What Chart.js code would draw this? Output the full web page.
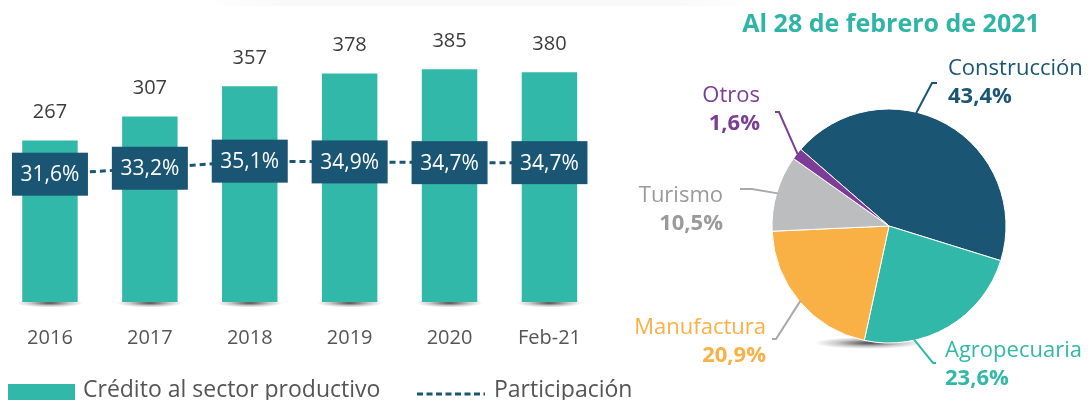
<!DOCTYPE html>
<html>
<head>
<meta charset="utf-8">
<script src="https://cdn.jsdelivr.net/npm/chart.js@4.4.1/dist/chart.umd.min.js"></script>
<style>
  body { margin: 0; background: #fff; width: 1091px; height: 400px; overflow: hidden; position: relative; font-family: 'Open Sans', sans-serif; }
  #band { position: absolute; left: 200px; top: 0; width: 560px; height: 6px; background: linear-gradient(to right, rgba(0,0,0,0), rgba(0,0,0,0.025) 15%, rgba(0,0,0,0.025) 85%, rgba(0,0,0,0)); }
  #barWrap { position: absolute; left: 0; top: 0; width: 605px; height: 385px; }
  #pieWrap { position: absolute; left: 620px; top: 0; width: 471px; height: 400px; }
  .lg-text { position: absolute; top: 377px; font-size: 23px; line-height: 23px; color: #555; white-space: nowrap; }
  .lg-box { position: absolute; left: 8px; top: 384px; width: 67px; height: 20px; background: #32b8a9; }
  .lg-dash { position: absolute; left: 417px; top: 392px; }
</style>
</head>
<body>
<div id="band"></div>
<div id="barWrap"><canvas id="barChart"></canvas></div>
<div id="pieWrap"><canvas id="pieChart"></canvas></div>

<div class="lg-box"></div>
<div class="lg-text" style="left:83px">Crédito al sector productivo</div>
<svg class="lg-dash" width="68" height="4"><line x1="0" y1="2" x2="68" y2="2" stroke="#1a5573" stroke-width="3" stroke-dasharray="6,3.5"/></svg>
<div class="lg-text" style="left:494px">Participación</div>

<script>
// datos
const years = ['2016', '2017', '2018', '2019', '2020', 'Feb-21'];
const credito = [267, 307, 357, 378, 385, 380];
const participacion = [31.6, 33.2, 35.1, 34.9, 34.7, 34.7];

const sectores = ['Construcción', 'Agropecuaria', 'Manufactura', 'Turismo', 'Otros'];
const sectorShare = [43.4, 23.6, 20.9, 10.5, 1.6];

const FONT = "'Open Sans', sans-serif";
const TEAL = '#32b8a9';
const NAVY = '#1a5573';

function fmt(v) {
    return v.toFixed(1).replace('.', ',') + '%';
}

// sombras y etiquetas de las barras
const barDecor = {
    id: 'barDecor',
    beforeDatasetsDraw(chart) {
        const ctx = chart.ctx;
        const meta = chart.getDatasetMeta(0);
        meta.data.forEach(bar => {
            const rx = bar.width * 0.6, ry = 4.5;
            ctx.save();
            ctx.translate(bar.x, bar.base + 1);
            ctx.scale(1, ry / rx);
            const g = ctx.createRadialGradient(0, 0, 0, 0, 0, rx);
            g.addColorStop(0, 'rgba(0,0,0,0.7)');
            g.addColorStop(0.6, 'rgba(0,0,0,0.2)');
            g.addColorStop(1, 'rgba(0,0,0,0)');
            ctx.fillStyle = g;
            ctx.beginPath();
            ctx.arc(0, 0, rx, 0, Math.PI * 2);
            ctx.fill();
            ctx.restore();
        });
    },
    afterDatasetsDraw(chart) {
        const ctx = chart.ctx;
        ctx.save();
        ctx.textAlign = 'center';
        ctx.textBaseline = 'middle';

        // valores sobre las barras
        ctx.font = '20px ' + FONT;
        ctx.fillStyle = '#3c3c3c';
        chart.getDatasetMeta(0).data.forEach((bar, i) => {
            ctx.fillText(credito[i], bar.x, bar.y - 28);
        });

        // cajas de participación
        ctx.font = '21px ' + FONT;
        chart.getDatasetMeta(1).data.forEach((pt, i) => {
            ctx.fillStyle = NAVY;
            ctx.fillRect(pt.x - 38, pt.y - 21.5, 76, 43);
            ctx.fillStyle = '#fff';
            ctx.fillText(fmt(participacion[i]), pt.x, pt.y + 1);
        });
        ctx.restore();
    }
};

new Chart(document.getElementById('barChart'), {
    data: {
        labels: years,
        datasets: [{
            type: 'bar',
            label: 'Crédito al sector productivo',
            data: credito,
            backgroundColor: TEAL,
            categoryPercentage: 1,
            barPercentage: 0.555,
            yAxisID: 'y',
            order: 1
        }, {
            type: 'line',
            label: 'Participación',
            data: participacion,
            borderColor: NAVY,
            borderWidth: 3,
            borderDash: [6, 4],
            pointRadius: 0,
            fill: false,
            yAxisID: 'y2',
            order: 0
        }]
    },
    options: {
        responsive: true,
        maintainAspectRatio: false,
        animation: false,
        layout: { padding: { top: 30, bottom: 11, left: 0, right: 0 } },
        plugins: { legend: { display: false }, tooltip: { enabled: false } },
        scales: {
            x: {
                grid: { display: false, drawTicks: false },
                border: { display: false },
                ticks: { padding: 24, color: '#555', font: { size: 20, family: FONT } }
            },
            y: { display: false, min: 0, max: 450 },
            y2: { display: false, min: -2.7, max: 70.3 }
        }
    },
    plugins: [barDecor]
});

// pie: posiciones de las etiquetas (en px del canvas)
const pieLabels = [
    { color: '#1b5574', line: NAVY, align: 'left', x: 328, y: 75, frac: 0.40, path: [[312, 83], [317, 83]] },
    { color: '#32b8a9', line: TEAL, align: 'left', x: 325, y: 357, frac: 0.71, path: [[313, 363], [316, 363]] },
    { color: '#f9b044', line: '#a9a9a9', align: 'right', x: 146, y: 334, frac: 0.5, path: [[156, 339], [152, 339]] },
    { color: '#9a9a9a', line: '#a9a9a9', align: 'right', x: 103, y: 202, frac: 0.5, path: [[132, 189], [120, 189]] },
    { color: '#7b3e96', line: '#7b3e96', align: 'right', x: 140, y: 102, frac: 0.5, path: [[159, 112], [155, 112]] }
];

const pieDecor = {
    id: 'pieDecor',
    beforeDatasetsDraw(chart) {
        const ctx = chart.ctx;
        const arc = chart.getDatasetMeta(0).data[0];
        const rx = 55, ry = 6;
        ctx.save();
        ctx.translate(arc.x - 20, arc.y + arc.outerRadius);
        ctx.scale(1, ry / rx);
        const g = ctx.createRadialGradient(0, 0, 0, 0, 0, rx);
        g.addColorStop(0, 'rgba(0,0,0,0.7)');
        g.addColorStop(0.6, 'rgba(0,0,0,0.2)');
        g.addColorStop(1, 'rgba(0,0,0,0)');
        ctx.fillStyle = g;
        ctx.beginPath();
        ctx.arc(0, 0, rx, 0, Math.PI * 2);
        ctx.fill();
        ctx.restore();
    },
    afterDatasetsDraw(chart) {
        const ctx = chart.ctx;
        ctx.save();
        // título
        ctx.fillStyle = '#2fb5a6';
        ctx.font = 'bold 25px ' + FONT;
        ctx.textAlign = 'center';
        ctx.textBaseline = 'alphabetic';
        ctx.fillText('Al 28 de febrero de 2021', 271, 32);

        chart.getDatasetMeta(0).data.forEach((arc, i) => {
            const L = pieLabels[i];
            const a = arc.startAngle + (arc.endAngle - arc.startAngle) * L.frac;
            const r = arc.outerRadius - 1;
            const sx = arc.x + Math.cos(a) * r;
            const sy = arc.y + Math.sin(a) * r;
            ctx.strokeStyle = L.line;
            ctx.lineWidth = 2;
            ctx.beginPath();
            ctx.moveTo(sx, sy);
            L.path.forEach(p => ctx.lineTo(p[0], p[1]));
            ctx.stroke();

            ctx.textAlign = L.align;
            ctx.fillStyle = L.color;
            ctx.font = '22px ' + FONT;
            ctx.fillText(sectores[i], L.x, L.y);
            ctx.font = 'bold 22px ' + FONT;
            ctx.fillText(fmt(sectorShare[i]), L.x, L.y + 28);
        });
        ctx.restore();
    }
};

new Chart(document.getElementById('pieChart'), {
    type: 'pie',
    data: {
        labels: sectores,
        datasets: [{
            data: sectorShare,
            backgroundColor: ['#1a5573', '#32b8a9', '#f9b044', '#bcbdbf', '#7d3c98'],
            borderColor: '#ffffff',
            borderWidth: 1
        }]
    },
    options: {
        responsive: true,
        maintainAspectRatio: false,
        animation: false,
        rotation: 311,
        layout: { padding: { left: 151.5, right: 84.5, top: 108.5, bottom: 56.5 } },
        plugins: { legend: { display: false }, tooltip: { enabled: false } }
    },
    plugins: [pieDecor]
});
</script>
</body>
</html>
